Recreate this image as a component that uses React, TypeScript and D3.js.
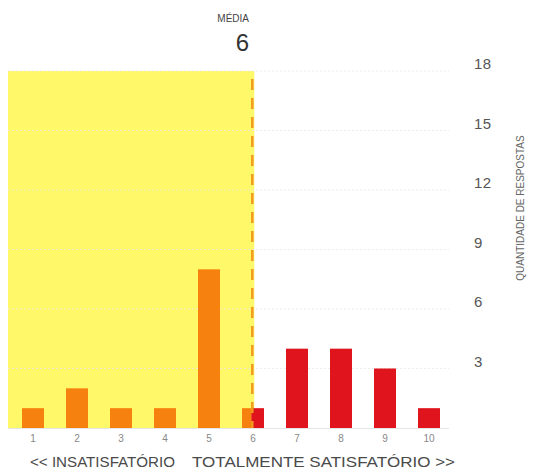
import React from "react";
import * as d3 from "d3";

const categories = [1, 2, 3, 4, 5, 6, 7, 8, 9, 10];
const counts = [1, 2, 1, 1, 8, 1, 4, 4, 3, 1];
const yTicks = [3, 6, 9, 12, 15, 18];
const leftLabel = "<< INSATISFATÓRIO";
const rightLabel = "TOTALMENTE SATISFATÓRIO >>";
const meanTitle = "MÉDIA";
const yTitle = "QUANTIDADE DE RESPOSTAS";

const W = 540;
const H = 474;
const plotLeft = 8;
const plotRight = 451;
const top = 71;
const base = 428;

const YELLOW = "#FFF96A";
const ORANGE = "#F7810F";
const RED = "#E0141C";

export default function App() {
  const x = d3
    .scaleBand<number>()
    .domain(categories)
    .range([11, plotRight])
    .paddingInner(0.5)
    .paddingOuter(0.25);
  const y = d3.scaleLinear().domain([0, 18]).range([base, top]);
  const step = x.step();
  const valToX = d3
    .scaleLinear()
    .domain([0.5, 10.5])
    .range([11, 11 + step * 10]);

  const total = d3.sum(counts);
  const mean = d3.sum(categories, (c, i) => c * counts[i]) / total;
  const mx = valToX(mean);

  const font = "Liberation Sans, Arial, sans-serif";

  return (
    <svg width={W} height={H} style={{ position: "absolute", left: 0, top: 0 }} fontFamily={font}>
      <defs>
        <clipPath id="leftClip">
          <rect x={0} y={0} width={mx} height={H} />
        </clipPath>
        <clipPath id="rightClip">
          <rect x={mx} y={0} width={W - mx} height={H} />
        </clipPath>
      </defs>
      <rect x={0} y={0} width={W} height={H} fill="#fff" />
      <rect x={plotLeft} y={top} width={mx + 3 - plotLeft} height={base - top} fill={YELLOW} />
      {yTicks.map((t) => (
        <line
          key={t}
          x1={plotLeft}
          x2={plotRight - 2}
          y1={y(t)}
          y2={y(t)}
          stroke="#e4e4e4"
          strokeWidth={1}
          strokeDasharray="2,2"
          opacity={0.7}
        />
      ))}
      <line x1={plotLeft} x2={plotRight - 2} y1={base + 0.5} y2={base + 0.5} stroke="#e6e6e6" strokeWidth={1} />
      <g clipPath="url(#leftClip)">
        {categories.map((c, i) => (
          <rect
            key={c}
            x={x(c)}
            y={y(counts[i])}
            width={x.bandwidth()}
            height={base - y(counts[i])}
            fill={ORANGE}
          />
        ))}
      </g>
      <g clipPath="url(#rightClip)">
        {categories.map((c, i) => (
          <rect
            key={c}
            x={x(c)}
            y={y(counts[i])}
            width={x.bandwidth()}
            height={base - y(counts[i])}
            fill={RED}
          />
        ))}
      </g>
      <line
        x1={mx + 1}
        x2={mx + 1}
        y1={top + 8}
        y2={base}
        stroke="#F39A1E"
        strokeWidth={2.5}
        strokeDasharray="11,8"
      />
      <text x={249} y={22} textAnchor="end" fontSize={10} fill="#444">
        {meanTitle}
      </text>
      <text x={249} y={51} textAnchor="end" fontSize={24} fill="#333">
        {d3.format(".0f")(mean)}
      </text>
      {yTicks.map((t) => (
        <text key={t} x={474} y={y(t) - 2} fontSize={15} fill="#555" letterSpacing={0.5}>
          {t}
        </text>
      ))}
      <text
        transform={`translate(524, 208) rotate(-90)`}
        textAnchor="middle"
        fontSize={10}
        fill="#666"
      >
        {yTitle}
      </text>
      {categories.map((c) => (
        <text
          key={c}
          x={(x(c) as number) + x.bandwidth() / 2}
          y={442}
          textAnchor="middle"
          fontSize={10}
          fill="#888"
        >
          {c}
        </text>
      ))}
      <text x={30} y={467} fontSize={15.5} fill="#4a4a4a" textLength={145} lengthAdjust="spacingAndGlyphs">
        {leftLabel}
      </text>
      <text x={192} y={467} fontSize={15.5} fill="#4a4a4a" textLength={263} lengthAdjust="spacingAndGlyphs">
        {rightLabel}
      </text>
    </svg>
  );
}
